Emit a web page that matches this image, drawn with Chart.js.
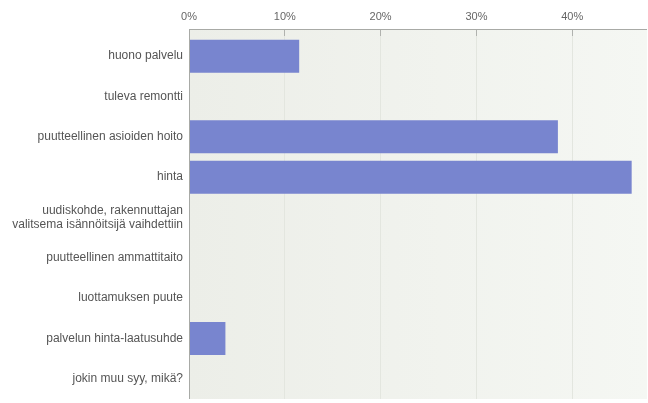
<!DOCTYPE html>
<html>
<head>
<meta charset="utf-8">
<script src="https://cdn.jsdelivr.net/npm/chart.js@4/dist/chart.umd.min.js"></script>
<style>
html,body{margin:0;padding:0;background:#fff;}
#wrap{width:648px;height:403px;position:relative;}
</style>
</head>
<body>
<div id="wrap"><canvas id="c" width="648" height="403"></canvas></div>
<script>
const categories = [
  "huono palvelu",
  "tuleva remontti",
  "puutteellinen asioiden hoito",
  "hinta",
  ["uudiskohde, rakennuttajan", "valitsema isännöitsijä vaihdettiin"],
  "puutteellinen ammattitaito",
  "luottamuksen puute",
  "palvelun hinta-laatusuhde",
  "jokin muu syy, mikä?"
];
const percentValues = [11.5, 0, 38.5, 46.2, 0, 0, 0, 3.8, 0];
const tickValues = [0, 10, 20, 30, 40];
const axisMax = 47.8;

const bgPlugin = {
  id: 'bgPlugin',
  beforeDraw(chart) {
    const {ctx, chartArea: a} = chart;
    const top = a.top - 7;
    const g = ctx.createLinearGradient(a.left, 0, a.right, 0);
    g.addColorStop(0, '#eceee8');
    g.addColorStop(1, '#f5f7f3');
    ctx.save();
    ctx.fillStyle = g;
    ctx.fillRect(a.left, top, a.right - a.left, a.bottom - top);
    ctx.restore();
  },
  afterDraw(chart) {
    const {ctx, chartArea: a} = chart;
    const top = a.top - 7;
    ctx.save();
    ctx.strokeStyle = '#a8aaa6';
    ctx.lineWidth = 1;
    ctx.beginPath();
    ctx.moveTo(a.left, top + 0.5);
    ctx.lineTo(a.right, top + 0.5);
    ctx.moveTo(a.left + 0.5, top);
    ctx.lineTo(a.left + 0.5, a.bottom);
    ctx.stroke();
    ctx.restore();
  }
};

new Chart(document.getElementById('c'), {
  type: 'bar',
  data: {
    labels: categories,
    datasets: [{
      data: percentValues,
      backgroundColor: '#7885cf',
      borderWidth: 0,
      barPercentage: 0.82,
      categoryPercentage: 1.0
    }]
  },
  options: {
    indexAxis: 'y',
    responsive: false,
    animation: false,
    layout: {padding: {left: 0, right: 1, top: 0, bottom: 4}},
    plugins: {legend: {display: false}, tooltip: {enabled: false}},
    scales: {
      x: {
        position: 'top',
        min: 0,
        max: axisMax,
        afterBuildTicks(scale) {
          scale.ticks = tickValues.map(v => ({value: v}));
        },
        afterFit(scale) { scale.height = 36; },
        ticks: {
          padding: 5,
          color: '#666',
          font: {family: 'Liberation Sans', size: 11},
          callback: v => v + '%',
          maxRotation: 0
        },
        grid: {
          color: '#e3e6df',
          tickColor: '#b0b2ae',
          tickLength: 7,
          drawTicks: true
        },
        border: {display: false}
      },
      y: {
        afterFit(scale) {
          scale.width = 189;
          scale.paddingTop = 0;
          scale.paddingBottom = 0;
        },
        ticks: {
          padding: 6,
          color: '#555',
          font: {family: 'Liberation Sans', size: 12}
        },
        grid: {display: false, drawTicks: false},
        border: {display: false}
      }
    }
  },
  plugins: [bgPlugin]
});
</script>
</body>
</html>
